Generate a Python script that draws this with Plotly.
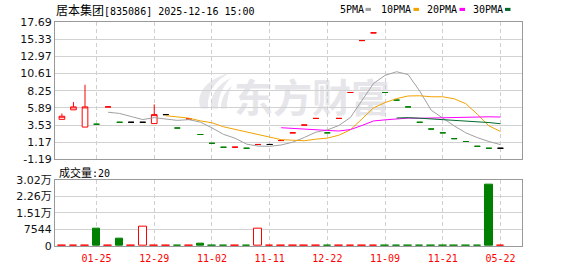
import plotly.graph_objects as go

# ---------------- data ----------------
candle_x = list(range(39))
opens = [4.32, 5.63, 3.26, 3.65, 6.03, 3.92, 3.92, 3.92, 3.74, 4.97,
         3.13, 4.39, 2.24, 1.03, 0.49, 0.50, 0.35, 0.87, 0.87, 1.41,
         2.47, 3.54, 4.45, 2.47, 4.45, 8.01, 15.14, 16.20, 8.01, 6.96,
         6.03, 3.92, 2.99, 2.47, 1.67, 1.28, 0.62, 0.35, 0.35]
highs = [5.11, 6.69, 9.07, 3.65, 6.03, 3.92, 3.92, 3.92, 6.37, 4.97,
         3.13, 4.39, 2.24, 1.03, 0.49, 0.50, 0.35, 0.87, 0.87, 1.41,
         2.47, 3.54, 4.45, 2.47, 4.45, 8.01, 15.14, 16.20, 8.01, 6.96,
         6.03, 3.92, 2.99, 2.47, 1.67, 1.28, 0.62, 0.35, 0.35]
lows = [4.32, 5.63, 3.26, 3.65, 6.03, 3.92, 3.92, 3.92, 3.74, 4.97,
        3.13, 4.39, 2.24, 1.03, 0.49, 0.50, 0.35, 0.87, 0.87, 1.41,
        2.47, 3.54, 4.45, 2.47, 4.45, 8.01, 15.14, 16.20, 8.01, 6.96,
        6.03, 3.92, 2.99, 2.47, 1.67, 1.28, 0.62, 0.35, 0.35]
closes = [4.75, 6.03, 6.03, 3.65, 6.03, 3.92, 3.92, 3.92, 4.97, 4.97,
          3.13, 4.39, 2.24, 1.03, 0.49, 0.50, 0.35, 0.87, 0.87, 1.41,
          2.47, 3.54, 4.45, 2.47, 4.45, 8.01, 15.14, 16.20, 8.01, 6.96,
          6.03, 3.92, 2.99, 2.47, 1.67, 1.28, 0.62, 0.35, 0.35]
direction = ["up", "up", "up", "down", "up", "down", "flat", "flat", "up", "flat",
             "down", "up", "down", "down", "down", "up", "down", "up", "flat", "up",
             "up", "up", "up", "down", "up", "up", "up", "up", "down", "down",
             "down", "down", "down", "down", "down", "down", "down", "down", "flat"]
volumes = [60, 40, 80, 7900, 50, 3200, 40, 8700, 60, 30,
           50, 40, 900, 60, 40, 50, 30, 7800, 40, 60,
           50, 40, 60, 50, 40, 60, 50, 40, 60, 50,
           40, 60, 50, 40, 60, 50, 40, 28000, 20]

ma_names = ["5PMA", "10PMA", "20PMA", "30PMA"]
ma5_x = list(range(4, 39))
ma5 = [5.30, 5.13, 4.71, 4.29, 4.55, 4.34, 4.18, 4.28, 3.94, 3.15,
       2.26, 1.73, 0.92, 0.65, 0.62, 0.80, 1.19, 1.83, 2.55, 2.87,
       3.48, 4.58, 6.90, 9.25, 10.36, 10.86, 10.47, 8.22, 5.58, 4.47,
       3.42, 2.47, 1.81, 1.28, 0.85]
ma10_x = list(range(9, 39))
ma10 = [4.82, 4.66, 4.49, 4.11, 3.85, 3.30, 2.96, 2.60, 2.29, 1.88,
        1.53, 1.46, 1.38, 1.60, 1.74, 2.14, 2.89, 4.37, 5.90, 6.62,
        7.17, 7.53, 7.56, 7.42, 7.42, 7.14, 6.47, 5.02, 3.43, 2.66]
ma20_x = list(range(19, 39))
ma20 = [3.17, 3.06, 2.94, 2.86, 2.80, 2.72, 2.92, 3.48, 4.10, 4.25,
        4.35, 4.49, 4.47, 4.51, 4.58, 4.64, 4.68, 4.69, 4.67, 4.64]
ma30_x = list(range(29, 39))
ma30 = [4.51, 4.55, 4.48, 4.38, 4.34, 4.19, 4.10, 3.99, 3.88, 3.72]

tick_idx = [3, 8, 13, 18, 23, 28, 33, 38]
tick_labels = ["01-25", "12-29", "11-02", "11-11", "12-22", "11-09", "11-21", "05-22"]
price_ticks = [-1.19, 1.17, 3.53, 5.89, 8.25, 10.61, 12.97, 15.33, 17.69]
vol_ticks = [0, 7544, 15088, 22632, 30176]
vol_tick_labels = ["0", "7544", "1.51万", "2.26万", "3.02万"]

title_name = "居本集团"
title_info = "[835086] 2025-12-16 15:00"
watermark = "东方财富"

# ---------------- styling ----------------
RED, GREEN, BLACK = "#ff0000", "#008000", "#000000"
ma_colors = ["#a0a0a0", "#f2a200", "#ff00ff", "#006a2c"]
L, R, T, B = 55, 56, 22, 21
W, H = 578, 276
PW, PH = W - L - R, H - T - B


def px_x(p):
    return (p - L) / PW


def px_y(p):
    return (H - B - p) / PH


fig = go.Figure()

groups = [("up", RED, "#ffffff"), ("down", GREEN, GREEN), ("flat", BLACK, BLACK)]
for name, col, fill in groups:
    ids = [i for i, d in enumerate(direction) if d == name]
    fig.add_trace(go.Candlestick(
        x=[candle_x[i] for i in ids],
        open=[opens[i] for i in ids], high=[highs[i] for i in ids],
        low=[lows[i] for i in ids], close=[closes[i] for i in ids],
        increasing=dict(line=dict(color=col, width=1), fillcolor=fill),
        decreasing=dict(line=dict(color=col, width=1), fillcolor=fill),
        whiskerwidth=0, showlegend=False, hoverinfo="skip",
        xaxis="x", yaxis="y"))

for xs, ys, col in [(ma5_x, ma5, ma_colors[0]), (ma10_x, ma10, ma_colors[1]),
                    (ma20_x, ma20, ma_colors[2]), (ma30_x, ma30, ma_colors[3])]:
    fig.add_trace(go.Scatter(x=xs, y=ys, mode="lines",
                             line=dict(color=col, width=1),
                             showlegend=False, hoverinfo="skip",
                             xaxis="x", yaxis="y"))

vol_line = [GREEN if d == "down" else RED for d in direction]
vol_fill = [GREEN if d == "down" else "#ffffff" for d in direction]
fig.add_trace(go.Bar(x=candle_x, y=volumes, width=0.66,
                     marker=dict(color=vol_fill, line=dict(color=vol_line, width=1)),
                     showlegend=False, hoverinfo="skip", xaxis="x2", yaxis="y2"))

x_left = -0.6
x_right = x_left + PW / 11.54

common_x = dict(range=[x_left, x_right], tickvals=tick_idx, showgrid=True,
                gridcolor="#cfcfcf", griddash="4px,3px", gridwidth=1,
                showline=True, mirror=True, linecolor="#999999", linewidth=1,
                zeroline=False, fixedrange=True)
common_y = dict(showgrid=True, gridcolor="#d2d2d2", gridwidth=1, showline=True,
                mirror=True, linecolor="#999999", linewidth=1, zeroline=False,
                ticks="", fixedrange=True,
                tickfont=dict(family="DejaVu Sans, Noto Sans CJK SC", size=11, color="#111111"))

fig.update_layout(
    width=W, height=H, margin=dict(l=L, r=R, t=T, b=B),
    paper_bgcolor="#ffffff", plot_bgcolor="#ffffff",
    showlegend=False, bargap=0,
    xaxis=dict(**common_x, anchor="y", domain=[0, 1], showticklabels=False,
               ticks="", rangeslider=dict(visible=False)),
    xaxis2=dict(**common_x, anchor="y2", domain=[0, 1], matches="x",
                ticktext=tick_labels, ticks="outside", ticklen=3,
                tickcolor="rgba(0,0,0,0)",
                tickfont=dict(family="DejaVu Sans Mono", size=10, color=RED)),
    yaxis=dict(**common_y, domain=[px_y(165), 1], range=[price_ticks[0], price_ticks[-1]],
               tickvals=price_ticks, ticktext=[f"{v:.2f}" for v in price_ticks]),
    yaxis2=dict(**common_y, domain=[0, px_y(186)], range=[vol_ticks[0], vol_ticks[-1]],
                tickvals=vol_ticks, ticktext=vol_tick_labels),
)

annotations = []
annotations.append(dict(
    x=0, y=px_y(8.5), xref="paper", yref="paper", xanchor="left", yanchor="middle",
    showarrow=False, borderpad=0,
    text=f'{title_name}<span style="font-family:DejaVu Sans Mono;font-size:10px">{title_info}</span>',
    font=dict(family="Noto Sans CJK SC", size=12, color="#000000")))

annotations.append(dict(
    x=px_x(57.5), y=px_y(178), xref="paper", yref="paper", xanchor="left", yanchor="middle",
    showarrow=False, borderpad=0,
    text=f'成交量<span style="font-family:DejaVu Sans Mono;font-size:10px">:{volumes[-1]}</span>',
    font=dict(family="Noto Sans CJK SC", size=11, color="#000000")))

legend_text_x = [338.5, 379.5, 425.5, 471.5]
legend_box_x = [365.5, 413.5, 459.5, 505.0]
shapes = []
for name, col, tx, bx in zip(ma_names, ma_colors, legend_text_x, legend_box_x):
    annotations.append(dict(
        x=px_x(tx), y=px_y(8.8), xref="paper", yref="paper", xanchor="left",
        yanchor="middle", showarrow=False, borderpad=0, text=name,
        font=dict(family="DejaVu Sans Mono", size=10, color="#000000")))
    shapes.append(dict(type="rect", xref="paper", yref="paper",
                       x0=px_x(bx), x1=px_x(bx + 5.5), y0=px_y(10.5), y1=px_y(7.3),
                       fillcolor=col, line=dict(width=0)))

# watermark text
cx, cy = px_x(312), px_y(104)
shapes.append(dict(type="rect", xref="paper", yref="paper", layer="below",
                   x0=cx - 0.18, x1=cx + 0.18, y0=cy - 0.1, y1=cy + 0.1,
                   line=dict(width=0), fillcolor="rgba(0,0,0,0)",
                   label=dict(text=watermark, textposition="middle center",
                              font=dict(family="Noto Sans CJK SC", size=39,
                                        color="#e6e6ea", weight=700))))

# watermark logo (stylised flame)
def pt(x, y):
    return f"{px_x(x):.4f},{px_y(y):.4f}"

logo_paths = [
    f"M {pt(201,112)} C {pt(195,98)} {pt(205,82)} {pt(229,75)} "
    f"C {pt(214,84)} {pt(207,96)} {pt(208,112)} Z",
    f"M {pt(211,112)} C {pt(210,99)} {pt(216,88)} {pt(231,80)} "
    f"C {pt(222,90)} {pt(218,100)} {pt(218,112)} Z",
    f"M {pt(221,112)} C {pt(221,103)} {pt(224,95)} {pt(232,88)} "
    f"C {pt(228,97)} {pt(227,104)} {pt(227,112)} Z",
]
for p in logo_paths:
    shapes.append(dict(type="path", xref="paper", yref="paper", layer="below",
                       path=p, fillcolor="#e8e8ec", line=dict(width=0)))

fig.update_layout(annotations=annotations, shapes=shapes)

fig.write_html("out.html")
